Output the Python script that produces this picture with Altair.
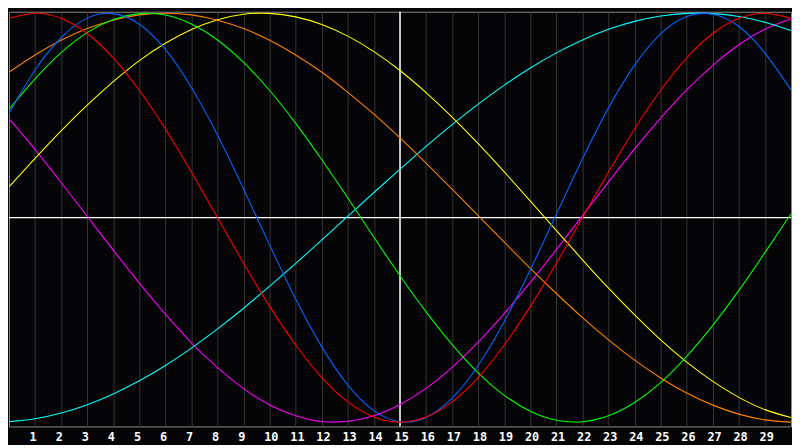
import altair as alt
import pandas as pd

# x positions (0..30) and the value of each curve (-1..1)
x_vals = list(range(31))

red = [0.975, 1.000, 0.975, 0.901, 0.782, 0.623, 0.434, 0.223, 0.000, -0.223,
       -0.434, -0.623, -0.782, -0.901, -0.975, -1.000, -0.975, -0.901, -0.782, -0.623,
       -0.434, -0.223, 0.000, 0.223, 0.434, 0.623, 0.782, 0.901, 0.975, 1.000, 0.975]

blue = [0.510, 0.722, 0.880, 0.976, 0.998, 0.946, 0.823, 0.637, 0.404, 0.140,
        -0.134, -0.398, -0.632, -0.819, -0.944, -0.998, -0.977, -0.883, -0.723, -0.508,
        -0.255, 0.017, 0.288, 0.537, 0.746, 0.899, 0.984, 0.995, 0.935, 0.805, 0.625]

green = [0.530, 0.679, 0.807, 0.905, 0.969, 0.998, 0.991, 0.947, 0.869, 0.759,
         0.622, 0.461, 0.283, 0.096, -0.096, -0.284, -0.461, -0.621, -0.759, -0.869,
         -0.947, -0.991, -0.998, -0.969, -0.904, -0.807, -0.679, -0.527, -0.356, -0.171, 0.019]

orange = [0.711, 0.796, 0.868, 0.925, 0.966, 0.992, 1.000, 0.992, 0.966, 0.925,
          0.868, 0.796, 0.711, 0.613, 0.506, 0.390, 0.267, 0.139, 0.010, -0.120,
          -0.248, -0.371, -0.489, -0.598, -0.697, -0.784, -0.858, -0.917, -0.961, -0.989, -1.000]

yellow = [0.150, 0.290, 0.425, 0.550, 0.665, 0.768, 0.853, 0.920, 0.968, 0.995,
          0.999, 0.982, 0.945, 0.888, 0.812, 0.720, 0.612, 0.492, 0.362, 0.224,
          0.081, -0.063, -0.206, -0.345, -0.476, -0.598, -0.707, -0.801, -0.879, -0.939, -0.978]

cyan = [-0.998, -0.984, -0.956, -0.915, -0.862, -0.798, -0.723, -0.638, -0.544, -0.443,
        -0.335, -0.224, -0.109, 0.007, 0.123, 0.237, 0.349, 0.455, 0.555, 0.648,
        0.732, 0.806, 0.869, 0.921, 0.960, 0.986, 0.999, 0.998, 0.984, 0.956, 0.915]

magenta = [0.484, 0.333, 0.172, 0.007, -0.159, -0.320, -0.472, -0.612, -0.734, -0.836,
           -0.916, -0.969, -0.997, -0.996, -0.969, -0.914, -0.835, -0.732, -0.609, -0.469,
           -0.317, -0.156, 0.010, 0.175, 0.336, 0.487, 0.625, 0.745, 0.846, 0.922, 0.973]

series_names = ["magenta", "cyan", "yellow", "orange", "green", "blue", "red"]
series_values = [magenta, cyan, yellow, orange, green, blue, red]
series_colors = ["#ff00ff", "#00ffff", "#ffff00", "#ff8000", "#00ff00", "#0064ff", "#ff0000"]

tick_labels = list(range(1, 30))
center_x = [15]
center_y = [0]

rows = []
for name, vals in zip(series_names, series_values):
    for xv, v in zip(x_vals, vals):
        rows.append({"series": name, "x": xv, "v": v})
df = pd.DataFrame(rows)

xs = alt.Scale(domain=[0, 30], nice=False, zero=False)
ys = alt.Scale(domain=[-1.0213, 1.0072], nice=False, zero=False)

x_axis = alt.Axis(
    values=tick_labels, grid=True, gridColor="#363636", gridWidth=1,
    domain=False, ticks=False, title=None,
    labelColor="#ffffff", labelFont="DejaVu Sans Mono", labelFontSize=12,
    labelFontWeight="bold", labelAlign="left", labelOffset=-6,
    labelPadding=5, labelBaseline="top", labelFlush=False, labelOverlap=False,
)

vrule = alt.Chart(pd.DataFrame({"x": center_x})).mark_rule(
    color="#ffffff", strokeWidth=1.5
).encode(x=alt.X("x:Q", scale=xs, axis=x_axis))

hrule = alt.Chart(pd.DataFrame({"y": center_y})).mark_rule(
    color="#ffffff", strokeWidth=1.2
).encode(y=alt.Y("y:Q", scale=ys, axis=None))

lines = alt.Chart(df).mark_line(strokeWidth=1.1, interpolate="natural", clip=True).encode(
    x=alt.X("x:Q", scale=xs, axis=x_axis),
    y=alt.Y("v:Q", scale=ys, axis=None),
    color=alt.Color("series:N", scale=alt.Scale(domain=series_names, range=series_colors), legend=None),
    detail="series:N",
)

chart = alt.layer(vrule, hrule, lines).properties(
    width=792, height=420, background="#050508", padding=0
).configure_view(stroke="#8c8c8c", strokeWidth=1)

chart.save("out.html", embed_options={"renderer": "svg", "actions": False})
